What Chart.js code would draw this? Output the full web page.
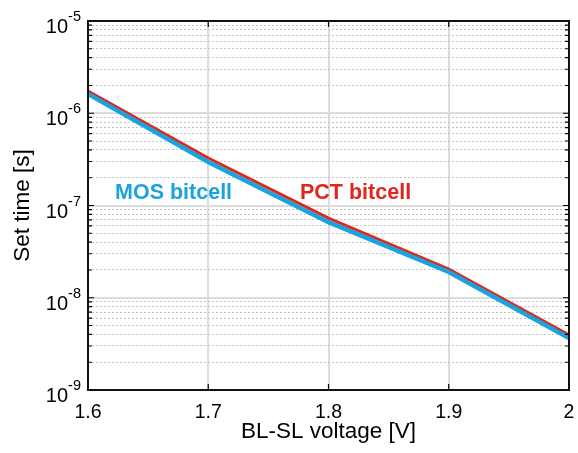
<!DOCTYPE html>
<html>
<head>
<meta charset="utf-8">
<script src="https://cdn.jsdelivr.net/npm/chart.js@4"></script>
<style>
  html, body { margin: 0; padding: 0; background: #fff; }
  #wrap { width: 578px; height: 453px; }
</style>
</head>
<body>
<div id="wrap"><canvas id="myChart" width="578" height="453"></canvas></div>
<script>
const voltages = [1.6, 1.7, 1.8, 1.9, 2.0];
const mosTime = [1.62e-6, 2.96e-7, 6.6e-8, 1.9e-8, 3.66e-9];
const pctTime = [1.74e-6, 3.27e-7, 7.3e-8, 2.05e-8, 3.94e-9];
const xTicks = [1.6, 1.7, 1.8, 1.9, 2];
const yDecades = [-9, -8, -7, -6, -5];
const yMinor = [2, 3, 4, 5, 6, 7, 8, 9];

const FONT = "'Liberation Sans', Arial, sans-serif";

// all y tick values: decades plus minor steps between them
const yTickValues = [];
yDecades.forEach((e, i) => {
    yTickValues.push(Math.pow(10, e));
    if (i < yDecades.length - 1) {
        yMinor.forEach(m => yTickValues.push(m * Math.pow(10, e)));
    }
});

function isDecade(v) {
    const l = Math.log10(v);
    return Math.abs(l - Math.round(l)) < 1e-6;
}

// box, inside tick marks and 10^n labels
const framePlugin = {
    id: 'frame',
    afterDraw(chart) {
        const { ctx, chartArea: a, scales } = chart;
        const x = scales.x, y = scales.y;
        ctx.save();
        ctx.strokeStyle = '#000';
        ctx.lineWidth = 1.2;
        yTickValues.forEach(v => {
            const py = y.getPixelForValue(v);
            const len = isDecade(v) ? 6 : 4;
            ctx.beginPath();
            ctx.moveTo(a.left, py); ctx.lineTo(a.left + len, py);
            ctx.moveTo(a.right, py); ctx.lineTo(a.right - len, py);
            ctx.stroke();
        });
        xTicks.forEach(v => {
            const px = x.getPixelForValue(v);
            ctx.beginPath();
            ctx.moveTo(px, a.bottom); ctx.lineTo(px, a.bottom - 6);
            ctx.moveTo(px, a.top); ctx.lineTo(px, a.top + 6);
            ctx.stroke();
        });
        ctx.lineWidth = 2;
        ctx.strokeStyle = '#111';
        ctx.strokeRect(a.left, a.top, a.right - a.left, a.bottom - a.top);

        // y labels with superscript exponent
        ctx.fillStyle = '#000';
        ctx.textBaseline = 'alphabetic';
        yDecades.forEach(e => {
            const py = y.getPixelForValue(Math.pow(10, e));
            const exp = String(e);
            ctx.font = '14.5px ' + FONT;
            const ew = ctx.measureText(exp).width;
            const ex = a.left - 7 - ew;
            ctx.textAlign = 'left';
            ctx.fillText(exp, ex, py);
            ctx.font = '20px ' + FONT;
            ctx.textAlign = 'right';
            ctx.fillText('10', ex, py + 12);
        });

        // series labels
        ctx.font = 'bold 21.5px ' + FONT;
        ctx.textAlign = 'left';
        ctx.textBaseline = 'middle';
        ctx.fillStyle = '#1aa3dc';
        ctx.fillText('MOS bitcell', 115, 193);
        ctx.fillStyle = '#e0261d';
        ctx.fillText('PCT bitcell', 300, 193);
        ctx.restore();
    }
};

new Chart(document.getElementById('myChart'), {
    type: 'line',
    data: {
        datasets: [
            {
                label: 'PCT bitcell',
                data: voltages.map((v, i) => ({ x: v, y: pctTime[i] })),
                borderColor: '#e0261d',
                borderWidth: 3,
                pointRadius: 0,
                tension: 0,
                order: 2
            },
            {
                label: 'MOS bitcell',
                data: voltages.map((v, i) => ({ x: v, y: mosTime[i] })),
                borderColor: '#1aa3dc',
                borderWidth: 4.5,
                pointRadius: 0,
                tension: 0,
                order: 1
            }
        ]
    },
    options: {
        responsive: false,
        animation: false,
        layout: { padding: { left: 5, right: 9, top: 21, bottom: 0 } },
        plugins: { legend: { display: false }, tooltip: { enabled: false } },
        scales: {
            x: {
                type: 'linear',
                min: 1.6,
                max: 2,
                afterBuildTicks: s => { s.ticks = xTicks.map(v => ({ value: v })); },
                afterFit: s => {
                    s.height = 63;
                    s.paddingLeft = 0;
                    s.paddingRight = 0;
                },
                ticks: {
                    color: '#000',
                    font: { family: FONT, size: 19.5 },
                    padding: 11,
                    maxRotation: 0,
                    autoSkip: false,
                    callback: v => (v === 2 ? '2' : v.toFixed(1))
                },
                grid: { color: '#dcdcdc', lineWidth: 2, drawTicks: false },
                border: { display: false },
                title: {
                    display: true,
                    text: 'BL-SL voltage [V]',
                    color: '#000',
                    font: { family: FONT, size: 22.5 },
                    padding: { top: 0, bottom: 8 }
                }
            },
            y: {
                type: 'logarithmic',
                min: 1e-9,
                max: 1e-5,
                afterBuildTicks: s => { s.ticks = yTickValues.map(v => ({ value: v })); },
                afterFit: s => {
                    s.width = 83;
                    s.paddingTop = 0;
                    s.paddingBottom = 0;
                },
                ticks: { display: true, autoSkip: false, callback: () => '' },
                grid: {
                    drawTicks: false,
                    color: c => (isDecade(c.tick.value) ? '#dcdcdc' : '#c4c4c4'),
                    lineWidth: c => (isDecade(c.tick.value) ? 2 : 1)
                },
                border: {
                    display: false,
                    dash: c => (c.tick && isDecade(c.tick.value) ? [] : [2, 2])
                },
                title: {
                    display: true,
                    text: 'Set time [s]',
                    color: '#000',
                    font: { family: FONT, size: 22.5 },
                    padding: { top: 4, bottom: 0 }
                }
            }
        }
    },
    plugins: [framePlugin]
});
</script>
</body>
</html>
